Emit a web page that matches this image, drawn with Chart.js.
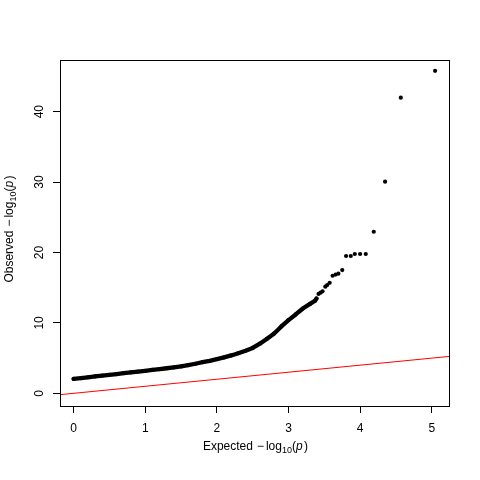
<!DOCTYPE html>
<html>
<head>
<meta charset="utf-8">
<script src="https://cdn.jsdelivr.net/npm/chart.js@4.4.1/dist/chart.umd.min.js"></script>
<style>
  html, body { margin: 0; padding: 0; background: #fff; }
</style>
</head>
<body>
<canvas id="qq" width="480" height="480"></canvas>
<script>
// Pontos densos do QQ plot
const denseX = [0, 0.1, 0.2, 0.3, 0.4, 0.5, 0.6, 0.7, 0.8, 0.9, 1.0, 1.1, 1.2, 1.3, 1.4, 1.5, 1.6, 1.7, 1.8, 1.9,
                2.0, 2.1, 2.2, 2.3, 2.4, 2.5, 2.6, 2.7, 2.8, 2.9, 3.0, 3.1, 3.2, 3.3, 3.37, 3.39];
const denseY = [2.05, 2.15, 2.28, 2.40, 2.52, 2.63, 2.74, 2.86, 2.98, 3.09, 3.20, 3.32, 3.44, 3.56, 3.69, 3.82, 4.0, 4.2, 4.42, 4.62,
                4.85, 5.1, 5.38, 5.7, 6.05, 6.45, 7.05, 7.75, 8.5, 9.5, 10.4, 11.2, 12.05, 12.7, 13.15, 13.45];

// Pontos isolados da cauda
const tailX = [3.419, 3.447, 3.475, 3.513, 3.54, 3.574, 3.615, 3.657, 3.696, 3.75,
               3.803, 3.869, 3.925, 3.999, 4.078, 4.19, 4.348, 4.567, 5.046];
const tailY = [14.12, 14.29, 14.49, 15.14, 15.38, 15.7, 16.70, 16.87, 16.99, 17.5,
               19.5, 19.5, 19.79, 19.79, 19.79, 22.95, 30.06, 41.99, 45.8];

// Linha de referência y = x
const refX = [-0.5, 5.5];

const xTicks = [0, 1, 2, 3, 4, 5];
const yTicks = [0, 10, 20, 30, 40];

const fonte = '"Liberation Sans", Arial, sans-serif';

const toPoints = (xs, ys) => xs.map((x, i) => ({ x: x, y: ys[i] }));

// Caixa em volta da área do gráfico
const caixaPlugin = {
    id: 'caixa',
    afterDraw(chart) {
        const { ctx, chartArea: a } = chart;
        ctx.save();
        ctx.strokeStyle = '#000';
        ctx.lineWidth = 1;
        ctx.strokeRect(Math.round(a.left) + 0.5, Math.round(a.top) + 0.5,
                       Math.round(a.right - a.left), Math.round(a.bottom - a.top));
        ctx.restore();
    }
};

// Títulos dos eixos com subscrito e p em itálico
function desenhaTitulo(ctx, prefixo) {
    const partes = [
        { t: prefixo, f: '12px ' + fonte, dy: 0, gap: 4 },
        { t: '\u2212', f: '12px ' + fonte, dy: 0, gap: 2 },
        { t: 'log', f: '12px ' + fonte, dy: 0, gap: 0 },
        { t: '10', f: '9px ' + fonte, dy: 3, gap: 0 },
        { t: '(', f: '12px ' + fonte, dy: 0, gap: 0 },
        { t: 'p', f: 'italic 12px ' + fonte, dy: 0, gap: 1.5 },
        { t: ')', f: '12px ' + fonte, dy: 0, gap: 0 }
    ];
    let total = 0;
    partes.forEach(p => { ctx.font = p.f; p.w = ctx.measureText(p.t).width; total += p.w + p.gap; });
    let x = -total / 2;
    partes.forEach(p => {
        ctx.font = p.f;
        ctx.fillText(p.t, x, p.dy);
        x += p.w + p.gap;
    });
}

const titulosPlugin = {
    id: 'titulos',
    afterDraw(chart) {
        const { ctx, chartArea: a } = chart;
        ctx.save();
        ctx.fillStyle = '#000';
        ctx.textBaseline = 'alphabetic';
        ctx.textAlign = 'left';
        ctx.translate((a.left + a.right) / 2 + 1, 449.5);
        desenhaTitulo(ctx, 'Expected');
        ctx.restore();

        ctx.save();
        ctx.fillStyle = '#000';
        ctx.textBaseline = 'alphabetic';
        ctx.textAlign = 'left';
        ctx.translate(12.5, (a.top + a.bottom) / 2 - 4);
        ctx.rotate(-Math.PI / 2);
        desenhaTitulo(ctx, 'Observed');
        ctx.restore();
    }
};

const eixoComum = {
    type: 'linear',
    grid: {
        drawOnChartArea: false,
        drawTicks: true,
        tickLength: 7,
        color: '#000',
        lineWidth: 1
    },
    border: { display: true, color: '#000' },
    ticks: {
        color: '#000',
        font: { family: fonte, size: 12 }
    }
};

new Chart(document.getElementById('qq'), {
    type: 'scatter',
    data: {
        datasets: [
            {
                label: 'denso',
                data: toPoints(denseX, denseY),
                showLine: true,
                borderColor: '#000',
                borderWidth: 4.3,
                borderCapStyle: 'round',
                borderJoinStyle: 'round',
                backgroundColor: '#000',
                pointRadius: 2.1,
                pointBorderWidth: 0,
                tension: 0
            },
            {
                label: 'cauda',
                data: toPoints(tailX, tailY),
                backgroundColor: '#000',
                pointRadius: 2.1,
                pointBorderWidth: 0
            },
            {
                label: 'referencia',
                data: toPoints(refX, refX),
                showLine: true,
                borderColor: '#ff0000',
                borderWidth: 1,
                pointRadius: 0
            }
        ]
    },
    options: {
        responsive: false,
        animation: false,
        devicePixelRatio: 1,
        layout: { padding: { top: 60, right: 31, left: 0, bottom: 0 } },
        plugins: {
            legend: { display: false },
            tooltip: { enabled: false }
        },
        scales: {
            x: {
                ...eixoComum,
                min: -0.19,
                max: 5.24,
                afterBuildTicks: (s) => { s.ticks = xTicks.map(v => ({ value: v })); },
                afterFit: (s) => { s.height = 74; },
                ticks: { ...eixoComum.ticks, padding: 8, maxRotation: 0 }
            },
            y: {
                ...eixoComum,
                min: -1.8,
                max: 47.34,
                afterBuildTicks: (s) => { s.ticks = yTicks.map(v => ({ value: v })); },
                afterFit: (s) => { s.width = 60; },
                ticks: { ...eixoComum.ticks, padding: 7, minRotation: 90, maxRotation: 90, crossAlign: 'center' }
            }
        }
    },
    plugins: [caixaPlugin, titulosPlugin]
});
</script>
</body>
</html>
